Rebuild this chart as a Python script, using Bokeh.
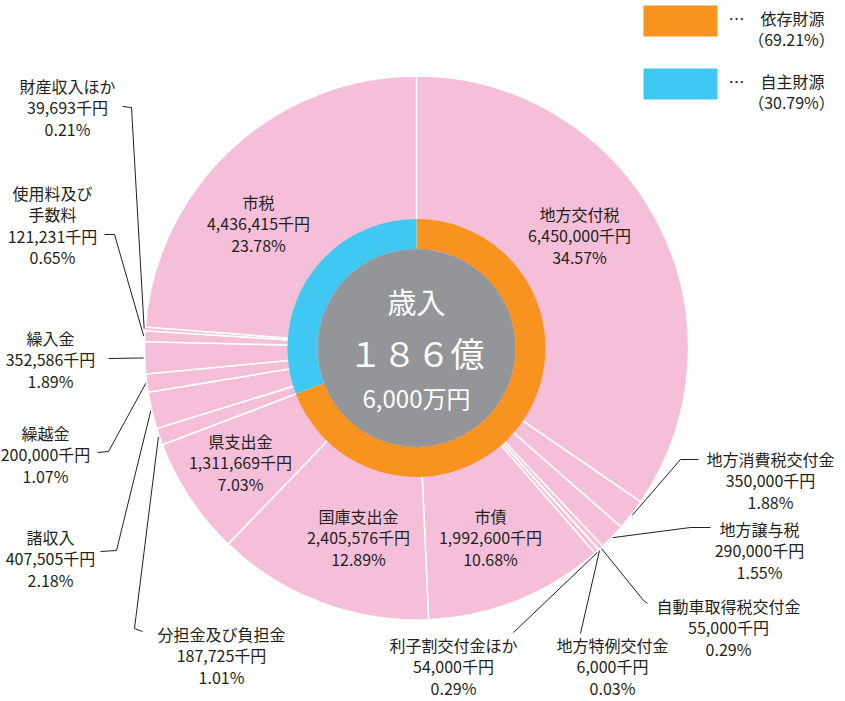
import numpy as np
from bokeh.plotting import figure
from bokeh.models import Range1d, ColumnDataSource
from bokeh.core.properties import value
from bokeh.embed import file_html
from bokeh.resources import INLINE

# ---------------- data ----------------
names = ["地方交付税", "地方消費税交付金", "地方譲与税", "自動車取得税交付金", "地方特例交付金",
         "利子割交付金ほか", "市債", "国庫支出金", "県支出金", "分担金及び負担金", "諸収入",
         "繰越金", "繰入金", "使用料及び手数料", "財産収入ほか", "市税"]
amounts = [6450000, 350000, 290000, 55000, 6000, 54000, 1992600, 2405576, 1311669,
           187725, 407505, 200000, 352586, 121231, 39693, 4436415]
percents = ["34.57", "1.88", "1.55", "0.29", "0.03", "0.29", "10.68", "12.89", "7.03",
            "1.01", "2.18", "1.07", "1.89", "0.65", "0.21", "23.78"]
groups = ["依存財源"] * 9 + ["自主財源"] * 7
group_names = ["依存財源", "自主財源"]
group_percents = ["69.21", "30.79"]
center_texts = ["歳入", "１８６億", "6,000万円"]

# ---------------- style / layout ----------------
W, H = 845, 701
CX, CY = 416, 347.5          # image coords of centre
R_OUT, R_RING, R_IN = 272, 129, 99
PINK, ORANGE, BLUE, GRAY = "#F6BFD9", "#F7931E", "#3FC8F2", "#939598"
TXT = "#231F20"
FONT = "Noto Sans CJK JP"
group_colors = {"依存財源": ORANGE, "自主財源": BLUE}

def Y(y):
    return H - y

# label layout: name -> (centre x, first line y, display lines of the name)
label_layout = {
    "地方交付税": (579, 213, ["地方交付税"]),
    "市税": (258, 201, ["市税"]),
    "県支出金": (240, 440, ["県支出金"]),
    "国庫支出金": (358, 515, ["国庫支出金"]),
    "市債": (490, 515, ["市債"]),
    "財産収入ほか": (67, 85, ["財産収入ほか"]),
    "使用料及び手数料": (52, 192, ["使用料及び", "手数料"]),
    "繰入金": (50, 337, ["繰入金"]),
    "繰越金": (45, 432, ["繰越金"]),
    "諸収入": (50, 536, ["諸収入"]),
    "分担金及び負担金": (221, 633, ["分担金及び負担金"]),
    "利子割交付金ほか": (453, 644, ["利子割交付金ほか"]),
    "地方特例交付金": (612, 644, ["地方特例交付金"]),
    "自動車取得税交付金": (728, 605, ["自動車取得税交付金"]),
    "地方譲与税": (759, 528, ["地方譲与税"]),
    "地方消費税交付金": (770, 458, ["地方消費税交付金"]),
}
LINE_STEP = 21.5

# leader elbows (image coords), from label side toward the wedge
leader_layout = {
    "財産収入ほか": [(122, 106), (131, 107)],
    "使用料及び手数料": [(104, 234), (114, 234)],
    "繰入金": [(108, 358)],
    "繰越金": [(97, 452), (108, 451)],
    "諸収入": [(100, 551), (116, 550)],
    "分担金及び負担金": [(142, 631), (134, 628)],
    "利子割交付金ほか": [(513, 632)],
    "地方特例交付金": [(580, 633)],
    "自動車取得税交付金": [(647, 603), (643, 600)],
    "地方譲与税": [(710, 527), (690, 527)],
    "地方消費税交付金": [(698, 459), (680, 459)],
}

# ---------------- computations ----------------
amounts_arr = np.array(amounts, dtype=float)
total = amounts_arr.sum()
cum_end = np.cumsum(amounts_arr) / total
cum_start = cum_end - amounts_arr / total
start_angle = np.pi / 2 - 2 * np.pi * cum_end
end_angle = np.pi / 2 - 2 * np.pi * cum_start

group_amounts = [sum(a for a, g in zip(amounts, groups) if g == gn) for gn in group_names]
g_arr = np.array(group_amounts, dtype=float)
g_end = np.cumsum(g_arr) / g_arr.sum()
g_start = g_end - g_arr / g_arr.sum()

p = figure(width=W, height=H, output_backend="svg", toolbar_location=None,
           x_range=Range1d(0, W), y_range=Range1d(0, H), min_border=0,
           background_fill_color="white", border_fill_color="white")
p.axis.visible = False
p.grid.visible = False
p.outline_line_color = None

# outer pink ring
p.wedge(x=CX, y=Y(CY), radius=R_OUT, start_angle=start_angle, end_angle=end_angle,
        direction="anticlock", fill_color=PINK, line_color="white", line_width=1.5)

# inner ring
p.annular_wedge(x=CX, y=Y(CY), inner_radius=R_IN, outer_radius=R_RING,
                start_angle=np.pi / 2 - 2 * np.pi * g_end,
                end_angle=np.pi / 2 - 2 * np.pi * g_start,
                direction="anticlock",
                fill_color=[group_colors[g] for g in group_names], line_color=None)
p.circle(x=CX, y=Y(CY), radius=R_IN, fill_color=GRAY, line_color=None)

# centre texts
p.text(x=[CX, CX, CX], y=[Y(300), Y(352), Y(397)], text=center_texts,
       text_font=value(FONT), text_font_size=["29px", "34px", "24px"],
       text_color="white", text_align="center", text_baseline="middle")

# labels
def fmt(a):
    return f"{a:,}千円"

lx, ly, lt = [], [], []
for n, a, pc in zip(names, amounts, percents):
    x0, y0, nlines = label_layout[n]
    lines = nlines + [fmt(a), pc + "%"]
    for i, s in enumerate(lines):
        lx.append(x0)
        ly.append(Y(y0 + i * LINE_STEP))
        lt.append(s)
p.text(x=lx, y=ly, text=lt, text_font=value(FONT), text_font_size="16px",
       text_color=TXT, text_align="center", text_baseline="middle")

# leaders
xs, ys = [], []
for i, n in enumerate(names):
    if n not in leader_layout:
        continue
    mid = 2 * np.pi * (cum_start[i] + cum_end[i]) / 2
    ex = CX + (R_OUT + 1) * np.sin(mid)
    ey = CY - (R_OUT + 1) * np.cos(mid)
    pts = leader_layout[n] + [(ex, ey)]
    xs.append([pt[0] for pt in pts])
    ys.append([Y(pt[1]) for pt in pts])
p.multi_line(xs=xs, ys=ys, line_color=TXT, line_width=1)

# legend
leg_top = [5, 68]
for gn, gp, t in zip(group_names, group_percents, leg_top):
    p.quad(left=643, right=717, top=Y(t), bottom=Y(t + 31), fill_color=group_colors[gn], line_color=None)
    p.text(x=[736], y=[Y(t + 12)], text=["…"], text_font=value(FONT), text_font_size="16px",
           text_color=TXT, text_align="center", text_baseline="middle")
    p.text(x=[792, 791], y=[Y(t + 12), Y(t + 33)], text=[gn, f"（{gp}%）"],
           text_font=value(FONT), text_font_size="16px",
           text_color=TXT, text_align="center", text_baseline="middle")

open("out.html", "w").write(file_html(p, INLINE))
